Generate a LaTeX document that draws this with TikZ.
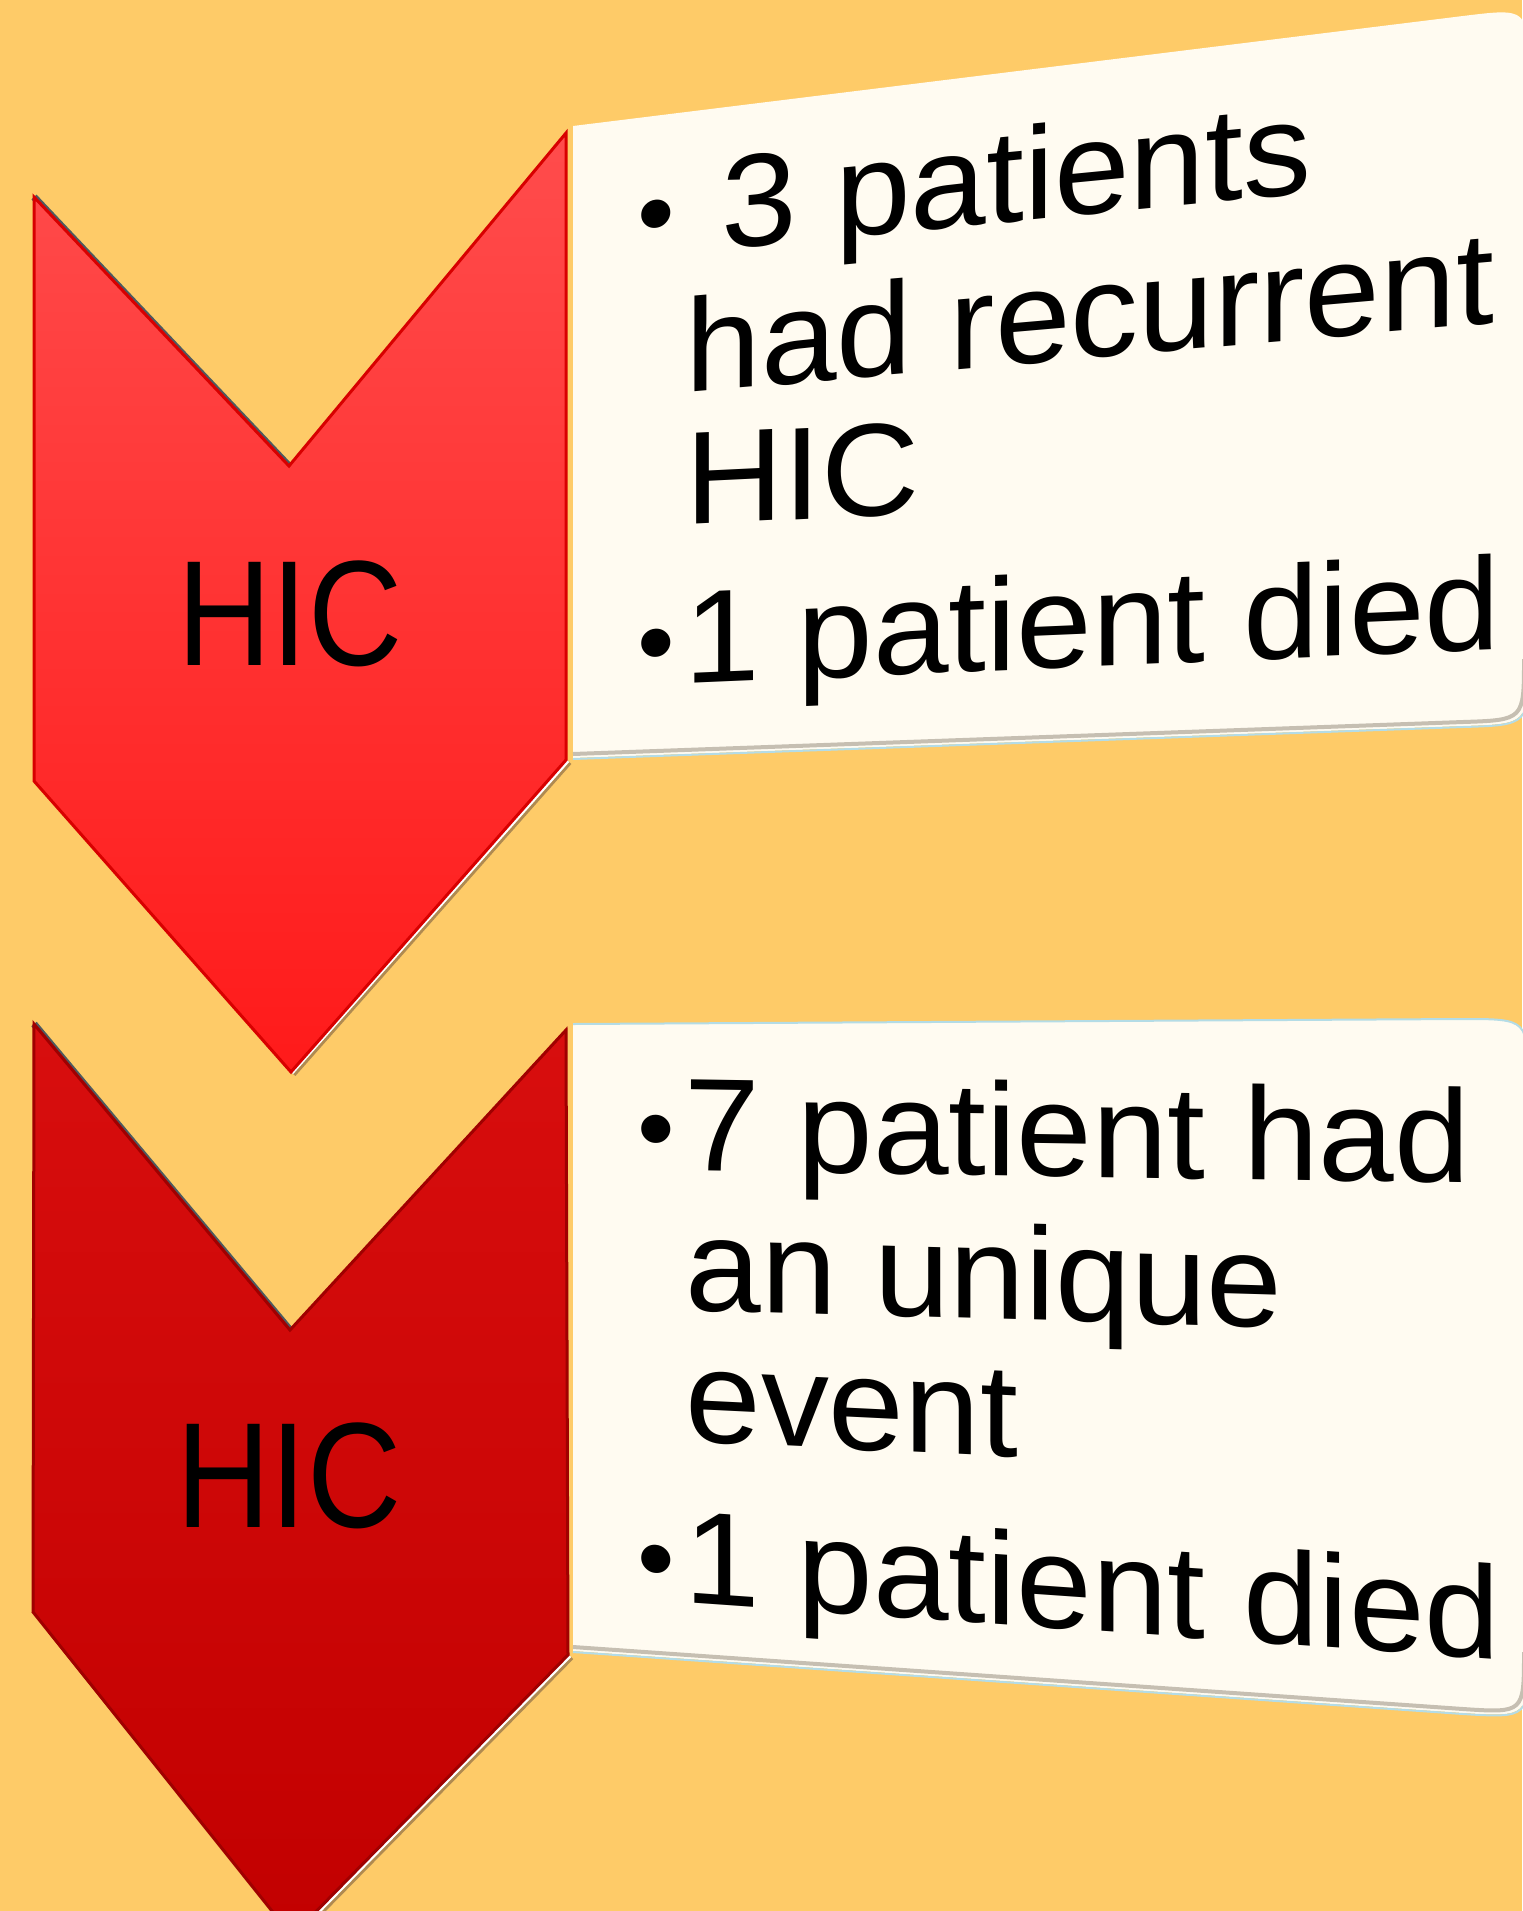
\documentclass[tikz,border=0pt]{standalone}
\usepackage{fontspec}
\setmainfont{Liberation Sans}
\definecolor{bgorange}{HTML}{FECB68}
\definecolor{chevAtop}{HTML}{FF4C4C}
\definecolor{chevAbot}{HTML}{FF1A1A}
\definecolor{chevAedge}{HTML}{D80000}
\definecolor{chevBtop}{HTML}{D80E0E}
\definecolor{chevBbot}{HTML}{C20000}
\definecolor{chevBedge}{HTML}{A00000}
\definecolor{boxfill}{HTML}{FFFBF1}
\definecolor{boxshadow}{HTML}{C6BFB2}
\definecolor{boxrim}{HTML}{B4DCE6}
\definecolor{slate}{HTML}{4E5A60}
\definecolor{tanedge}{HTML}{B08A50}
\newcommand{\pbul}{\raisebox{3.5pt}{\fontsize{52}{52}\selectfont •}\hspace{4.5pt}}
\begin{document}
\begin{tikzpicture}[x=0.5pt,y=-0.5pt,
		chevA/.style={draw=chevAedge,line width=1.5pt,top color=chevAtop,bottom color=chevAbot},
		chevB/.style={draw=chevBedge,line width=1.5pt,top color=chevBtop,bottom color=chevBbot},
		notchshade/.style={slate,line width=3.5pt},
		glint/.style={white,line width=3pt},
		glintbase/.style={tanedge,line width=4.5pt},
		note/.style={fill=boxfill},
		noteshadow/.style={boxshadow,line width=2pt},
		noterim/.style={boxrim,line width=1pt},
		bodytext/.style={anchor=base west,inner sep=0pt,xscale=1.03,font=\fontsize{66}{66}\selectfont},
		hiclabel/.style={inner sep=0pt,xscale=0.87,font=\fontsize{75}{75}\selectfont}]
	\useasboundingbox (0,0) rectangle (1522,1911);
	\fill[bgorange] (0,0) rectangle (1522,1911);
	% text boxes
	\fill[note] (573,126) -- (1463,16) .. controls (1528,8) .. (1528,73) -- (1528,659) .. controls (1528,724) .. (1463,726) -- (573,758) -- cycle;
	\draw[noterim] (573,759) -- (1463,727) .. controls (1529,725) .. (1529,659);
	\draw[noteshadow] (573,754) -- (1463,722) .. controls (1524,720) .. (1524,659);
	\fill[note] (573,1024) -- (1463,1019) .. controls (1528,1019) .. (1528,1084) -- (1528,1652) .. controls (1528,1717) .. (1463,1713) -- (573,1651) -- cycle;
	\draw[noterim] (573,1024) -- (1463,1019) .. controls (1528,1019) .. (1528,1084);
	\draw[noterim] (573,1652) -- (1463,1714) .. controls (1529,1718) .. (1529,1652);
	\draw[noteshadow] (573,1647) -- (1463,1709) .. controls (1524,1713) .. (1524,1652);
	% chevrons
	\draw[notchshade] (34,197) -- (289,466);
	\draw[glintbase] (568,761) -- (292,1073);
	\draw[glint] (567,760) -- (291,1072);
	\draw[chevA] (34,197) -- (289,466) -- (566,133) -- (566,760) -- (291,1072) -- (34,781) -- cycle;
	\draw[notchshade] (34,1024) -- (290,1330);
	\draw[glintbase] (570,1656) -- (294,1937);
	\draw[glint] (569,1655) -- (293,1936);
	\draw[chevB] (34,1024) -- (290,1330) -- (566,1030) -- (568,1655) -- (292,1936) -- (33,1612) -- cycle;
	\node[hiclabel] (hicA) at (290,614) {HIC};
	\node[hiclabel] (hicB) at (289,1476) {HIC};
	% bullet texts
	\node[bodytext,yslant=0.10] (recA) at (637,258) {\pbul{} 3 patients};
	\node[bodytext,yslant=0.089] (recB) at (685,393) {had recurrent};
	\node[bodytext,yslant=0.05] (recC) at (685,525) {HIC};
	\node[bodytext,yslant=0.044] (diedA) at (637,686) {\pbul 1 patient died};
	\node[bodytext,yslant=-0.016] (uniA) at (637,1170) {\pbul 7 patient had};
	\node[bodytext,yslant=-0.03] (uniB) at (685,1310) {an unique};
	\node[bodytext,yslant=-0.05] (uniC) at (685,1441) {event};
	\node[bodytext,yslant=-0.072] (diedB) at (637,1599) {\pbul 1 patient died};
\end{tikzpicture}
\end{document}
